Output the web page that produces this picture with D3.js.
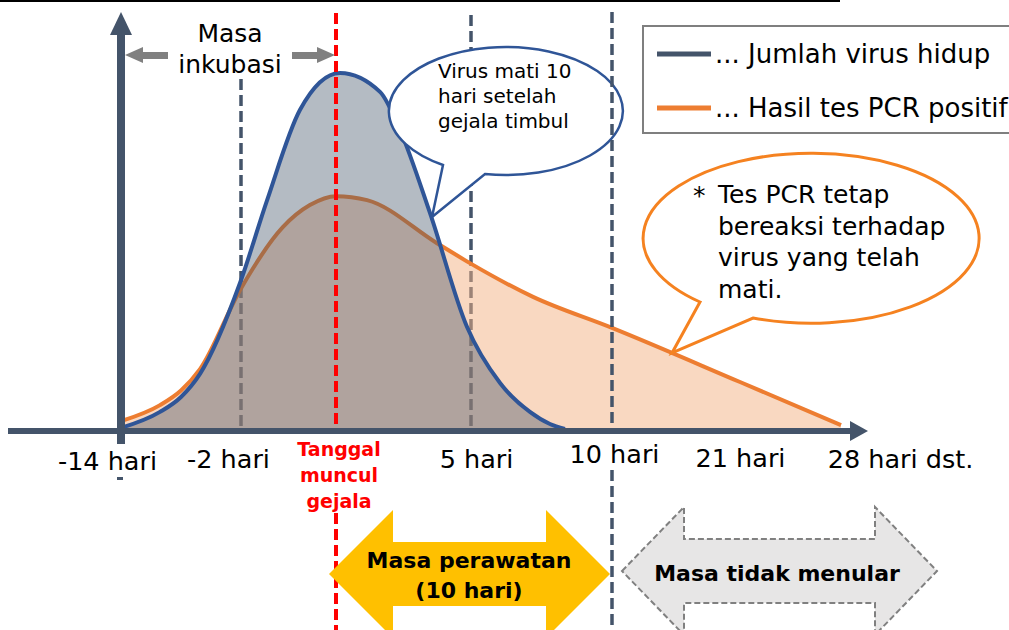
<!DOCTYPE html>
<html>
<head>
<meta charset="utf-8">
<script src="https://d3js.org/d3.v7.min.js"></script>
<style>
  html, body { margin: 0; padding: 0; background: #fff; }
  svg { display: block; font-family: 'DejaVu Sans', Verdana, sans-serif; }
</style>
</head>
<body>
<svg id="chart" width="1009" height="630"></svg>
<script>
'use strict'

// days relative to the day symptoms appear (the original axis is not to scale)
const axisDays = [-14, -2, 0, 5, 10, 21, 28]
const tickDays = [-14, -2, 5, 10, 21, 28]
const tickLabels = ['-14 hari', '-2 hari', '5 hari', '10 hari', '21 hari', '28 hari dst.']

// amount of live virus, relative (peak = 100)
const virusDays = [-14, -10.1, -8, -6.1, -2.1, -1.45, -0.76, 0.15, 1.63, 2.37, 3.48, 4.85, 6.03, 7.09, 7.8, 8.33]
const virusValues = [0.3, 4.8, 9, 15.5, 41, 64.3, 89.6, 100, 94.7, 84, 60.7, 28.7, 12.9, 4.8, 1.4, 0]

// positive PCR result, relative
const pcrDays = [-14, -10.1, -8, -6.1, -2.1, -1.12, -0.55, 0, 1.15, 3.74, 4.96, 7.2, 10, 21, 28]
const pcrValues = [2.2, 6.7, 10.8, 16.8, 39, 56.7, 62.9, 65.4, 64.3, 52.2, 46.6, 37.1, 28.4, 13.2, 1.1]

const legendLabels = ['... Jumlah virus hidup', '... Hasil tes PCR positif']
const seriesColors = ['#44546a', '#ed7d31']

const svg = d3.select('#chart')

const x = d3.scaleLinear().domain(axisDays).range([121, 241, 336, 471, 612, 740, 841])
const y = d3.scaleLinear().domain([0, 100]).range([429, 73])

const line = d3.line()
    .x((d) => x(d[0]))
    .y((d) => y(d[1]))
    .curve(d3.curveMonotoneX)
const area = d3.area()
    .x((d) => x(d[0]))
    .y0(y(0))
    .y1((d) => y(d[1]))
    .curve(d3.curveMonotoneX)

const virus = d3.zip(virusDays, virusValues)
const pcr = d3.zip(pcrDays, pcrValues)

// top rule
svg.append('rect').attr('x', 0).attr('y', 0).attr('width', 840).attr('height', 2).attr('fill', '#000')

const dashed = (g, xPos, y1, y2, color, width) => {
    g.append('line')
        .attr('x1', xPos).attr('x2', xPos)
        .attr('y1', y1).attr('y2', y2)
        .attr('stroke', color)
        .attr('stroke-width', width)
        .attr('stroke-dasharray', '11,5')
}

// guide lines that sit under the curves
dashed(svg, x(-2), 79, 429, '#44546a', 3.5)
dashed(svg, x(5), 15, 429, '#44546a', 3.5)

// PCR curve
svg.append('path').datum(pcr).attr('d', area).attr('fill', '#f4b183').attr('fill-opacity', 0.5)
svg.append('path').datum(pcr).attr('d', line)
    .attr('fill', 'none').attr('stroke', seriesColors[1]).attr('stroke-width', 4)

// live virus curve
svg.append('path').datum(virus).attr('d', area).attr('fill', '#44546a').attr('fill-opacity', 0.4)
svg.append('path').datum(virus).attr('d', line)
    .attr('fill', 'none').attr('stroke', '#2f5597').attr('stroke-width', 4)

// symptom onset
dashed(svg, x(0), 13, 434, '#ff0000', 4)
dashed(svg, x(0), 513, 630, '#ff0000', 4)

// speech bubbles
const bubble = (cx, cy, rx, ry, a, tip, b, color, width) =>
    svg.append('path')
        .attr('d', `M${a[0]},${a[1]} L${tip[0]},${tip[1]} L${b[0]},${b[1]} A${rx},${ry} 0 1 0 ${a[0]},${a[1]} Z`)
        .attr('fill', '#fff')
        .attr('stroke', color)
        .attr('stroke-width', width)

bubble(510, 111, 117, 64, [443, 165], [432, 217], [485, 174], '#2f5597', 2.5)
svg.append('text')
    .attr('font-size', 20)
    .selectAll('tspan')
    .data(['Virus mati 10', 'hari setelah', 'gejala timbul'])
    .join('tspan')
    .attr('x', 438)
    .attr('y', (d, i) => 78 + i * 25)
    .text((d) => d)

dashed(svg, x(10), 12, 426, '#44546a', 3.5)
dashed(svg, x(10), 470, 630, '#44546a', 3.5)

// legend
const legend = svg.append('g')
legend.append('rect')
    .attr('x', 643).attr('y', 26).attr('width', 400).attr('height', 107)
    .attr('fill', '#fff').attr('stroke', '#7f7f7f').attr('stroke-width', 2)
const item = legend.selectAll('g.item').data(legendLabels).join('g').attr('class', 'item')
    .attr('transform', (d, i) => `translate(657, ${54 + i * 54})`)
item.append('line').attr('x2', 54).attr('stroke', (d, i) => seriesColors[i]).attr('stroke-width', 5)
item.append('text').attr('x', 58).attr('y', 9).attr('font-size', 26).text((d) => d)

bubble(815, 240, 168, 85, [700, 302], [672, 353], [753, 318], '#f58220', 3)
svg.append('text').attr('x', 693).attr('y', 204).attr('font-size', 25).text('*')
svg.append('text')
    .attr('font-size', 25)
    .selectAll('tspan')
    .data(['Tes PCR tetap', 'bereaksi terhadap', 'virus yang telah', 'mati.'])
    .join('tspan')
    .attr('x', 718)
    .attr('y', (d, i) => 203 + i * 31.5)
    .text((d) => d)

// axes
svg.append('rect').attr('x', 8).attr('y', 428).attr('width', 844).attr('height', 6).attr('fill', '#44546a')
svg.append('path').attr('d', 'M850,421 L868,431 L850,441 Z').attr('fill', '#44546a')
svg.append('rect').attr('x', 117).attr('y', 33).attr('width', 8).attr('height', 411).attr('fill', '#44546a')
svg.append('rect').attr('x', 117).attr('y', 477).attr('width', 6).attr('height', 3).attr('fill', '#44546a')
svg.append('path').attr('d', 'M110,35 L121,12 L132,35 Z').attr('fill', '#44546a')

// label nudges [dx, dy] to match the hand placed labels
const nudge = [[-14, 2], [-13, 0], [5, 0], [2, -5], [0, -1], [59, 0]]
svg.append('g')
    .attr('transform', `translate(0, ${y(0) + 2})`)
    .call(d3.axisBottom(x)
        .tickValues(tickDays)
        .tickFormat((d, i) => tickLabels[i])
        .tickSize(0)
        .tickPadding(19))
    .call((g) => g.select('.domain').remove())
    .call((g) => g.selectAll('text')
        .attr('font-family', "'DejaVu Sans', Verdana, sans-serif")
        .attr('font-size', 25.5)
        .attr('fill', '#000')
        .attr('dx', (d, i) => nudge[i][0])
        .attr('transform', (d, i) => `translate(0, ${nudge[i][1]})`))

svg.append('text')
    .attr('text-anchor', 'middle')
    .attr('font-size', 19)
    .attr('font-weight', 'bold')
    .attr('fill', '#ff0000')
    .selectAll('tspan')
    .data(['Tanggal', 'muncul', 'gejala'])
    .join('tspan')
    .attr('x', x(0) + 3)
    .attr('y', (d, i) => 456 + i * 26)
    .text((d) => d)

// incubation period
const grey = '#808080'
svg.append('path').attr('d', 'M125,55 L143,47 L143,52 L168,52 L168,59 L143,59 L143,63 Z').attr('fill', grey)
svg.append('path').attr('d', 'M335,55 L317,47 L317,52 L292,52 L292,59 L317,59 L317,63 Z').attr('fill', grey)
svg.append('text')
    .attr('text-anchor', 'middle')
    .attr('font-size', 25)
    .selectAll('tspan')
    .data(['Masa', 'inkubasi'])
    .join('tspan')
    .attr('x', 230)
    .attr('y', (d, i) => 42 + i * 31)
    .text((d) => d)

// double headed block arrows
const blockArrow = (x1, x2, cy, headW, headH, shaftH) => {
    return `M${x1},${cy} L${x1 + headW},${cy - headH} L${x1 + headW},${cy - shaftH} ` +
        `L${x2 - headW},${cy - shaftH} L${x2 - headW},${cy - headH} L${x2},${cy} ` +
        `L${x2 - headW},${cy + headH} L${x2 - headW},${cy + shaftH} L${x1 + headW},${cy + shaftH} ` +
        `L${x1 + headW},${cy + headH} Z`
}

svg.append('path').attr('d', blockArrow(329, 610, 574, 64, 64, 32)).attr('fill', '#ffc000')
svg.append('text')
    .attr('text-anchor', 'middle')
    .attr('font-size', 22)
    .attr('font-weight', 'bold')
    .selectAll('tspan')
    .data(['Masa perawatan', '(10 hari)'])
    .join('tspan')
    .attr('x', 469)
    .attr('y', (d, i) => 568 + i * 30)
    .text((d) => d)

svg.append('path').attr('d', blockArrow(622, 937, 571, 62, 64, 32))
    .attr('fill', '#e7e6e6').attr('stroke', grey).attr('stroke-width', 2).attr('stroke-dasharray', '6,3')
svg.append('text')
    .attr('x', 777).attr('y', 581)
    .attr('text-anchor', 'middle')
    .attr('font-size', 22)
    .attr('font-weight', 'bold')
    .text('Masa tidak menular')
</script>
</body>
</html>
